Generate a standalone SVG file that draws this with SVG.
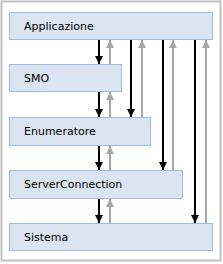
<svg xmlns="http://www.w3.org/2000/svg" width="223" height="264" viewBox="0 0 223 264">
<style>
.box{fill:#dbe5f1;stroke:#9dbde0;stroke-width:1}
.lbl{font-family:"DejaVu Sans",Verdana,sans-serif;font-size:11px;fill:#000}
.dn{stroke:#000;stroke-width:2;fill:none;marker-end:url(#ab)}
.up{stroke:#a6a6a6;stroke-width:2;fill:none;marker-end:url(#ag)}
</style>
<defs>
<marker id="ab" viewBox="0 0 8 8" refX="8" refY="4" markerWidth="8" markerHeight="8" markerUnits="userSpaceOnUse" orient="auto"><path d="M0,0 L8,4 L0,8 Z" fill="#000"/></marker>
<marker id="ag" viewBox="0 0 8 8" refX="8" refY="4" markerWidth="8" markerHeight="8" markerUnits="userSpaceOnUse" orient="auto"><path d="M0,0 L8,4 L0,8 Z" fill="#a6a6a6"/></marker>
</defs>
<rect x="1.5" y="1.5" width="219" height="259" fill="#fff" stroke="#c0c0c0" stroke-width="2"/>
<g id="connectors">
<line class="dn" x1="99" y1="40" x2="99" y2="64"/>
<line class="up" x1="110" y1="64" x2="110" y2="40"/>
<line class="dn" x1="99" y1="92" x2="99" y2="117"/>
<line class="up" x1="110" y1="117" x2="110" y2="92"/>
<line class="dn" x1="99" y1="146" x2="99" y2="170"/>
<line class="up" x1="110" y1="170" x2="110" y2="146"/>
<line class="dn" x1="99" y1="199" x2="99" y2="223"/>
<line class="up" x1="110" y1="223" x2="110" y2="199"/>
<line class="dn" x1="131" y1="40" x2="131" y2="117"/>
<line class="up" x1="142" y1="117" x2="142" y2="40"/>
<line class="dn" x1="163" y1="40" x2="163" y2="170"/>
<line class="up" x1="173" y1="170" x2="173" y2="40"/>
<line class="dn" x1="195" y1="40" x2="195" y2="223"/>
<line class="up" x1="206" y1="223" x2="206" y2="40"/>
</g>
<g id="applicazione"><rect class="box" x="9.5" y="12.5" width="203" height="27"/><text class="lbl" x="24" y="30">Applicazione</text></g>
<g id="smo"><rect class="box" x="9.5" y="64.5" width="112" height="27"/><text class="lbl" x="24" y="82">SMO</text></g>
<g id="enumeratore"><rect class="box" x="9.5" y="117.5" width="141" height="28"/><text class="lbl" x="24" y="135">Enumeratore</text></g>
<g id="serverconnection"><rect class="box" x="9.5" y="170.5" width="173" height="28"/><text class="lbl" x="24" y="188">ServerConnection</text></g>
<g id="sistema"><rect class="box" x="9.5" y="223.5" width="203" height="27"/><text class="lbl" x="24" y="241">Sistema</text></g>
</svg>
